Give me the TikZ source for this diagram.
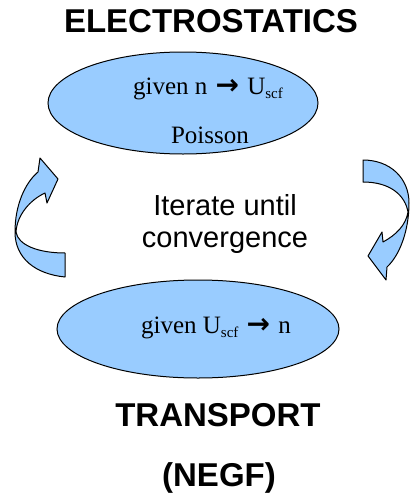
\documentclass[tikz,border=0pt]{standalone}
\usepackage{fontspec}
\setmainfont{Liberation Serif}
\newfontfamily\arial{Liberation Sans}
\newfontfamily\dejavu{DejaVu Sans}
\usetikzlibrary{shapes.geometric}
\definecolor{cellblue}{HTML}{99CCFF}
\tikzset{
  blob/.style={ellipse, draw=black, line width=1pt, fill=cellblue, inner sep=0pt},
  cyclearrow/.style={draw=black, line width=1pt, fill=cellblue, line join=round},
  title/.style={font=\arial\bfseries\fontsize{33}{38}\selectfont, inner sep=0pt},
  mid/.style={font=\arial\fontsize{29}{32}\selectfont, align=center, inner sep=0pt},
  inner/.style={font=\fontsize{25}{30}\selectfont, inner sep=0pt}
}
\newcommand{\sub}[1]{\raisebox{-0.35ex}{\fontsize{15}{16}\selectfont #1}}
\newcommand{\bigarr}{\hspace{2pt}{\dejavu\bfseries\fontsize{28}{28}\selectfont →}\hspace{2pt}}
\begin{document}
\begin{tikzpicture}[x=1pt,y=-1pt]
\useasboundingbox (0,0) rectangle (410,498);
% ellipses
\node[blob, minimum width=270pt, minimum height=102pt] (top) at (183,103) {};
\node[blob, minimum width=282pt, minimum height=98pt] (bot) at (198,329) {};
% texts
\node[title] (elec) at (211,21) {ELECTROSTATICS};
\node[title] (trans) at (218,415) {TRANSPORT};
\node[title] (negf) at (219,478) {(NEGF)};
\node[mid] (iter) at (225,224) {Iterate until\\convergence};
\node[inner] (t1) at (208,89) {given n \bigarr{} U\sub{scf}};
\node[inner] (t2) at (210,135) {Poisson};
\node[inner] (t3) at (216,328) {given U\sub{scf} \bigarr{} n};
% left curved arrow (points up-right)
\path[cyclearrow] (65,277) .. controls (35,274) and (15,258) .. (15,232)
  .. controls (15,205) and (25,183) .. (38,172)
  -- (40,158) -- (58,179) -- (47,203) -- (45,193)
  .. controls (30,200) and (17,215) .. (16,232)
  .. controls (18,245) and (38,253) .. (65,253) -- cycle;
% right curved arrow (points down-left)
\path[cyclearrow] (363,160) .. controls (390,160) and (409,178) .. (409,203)
  .. controls (409,230) and (400,255) .. (387,267)
  -- (386,280) -- (368,256) -- (382,232) -- (383,242)
  .. controls (396,235) and (406,225) .. (408,212)
  .. controls (405,195) and (390,182) .. (363,182) -- cycle;
\end{tikzpicture}
\end{document}
